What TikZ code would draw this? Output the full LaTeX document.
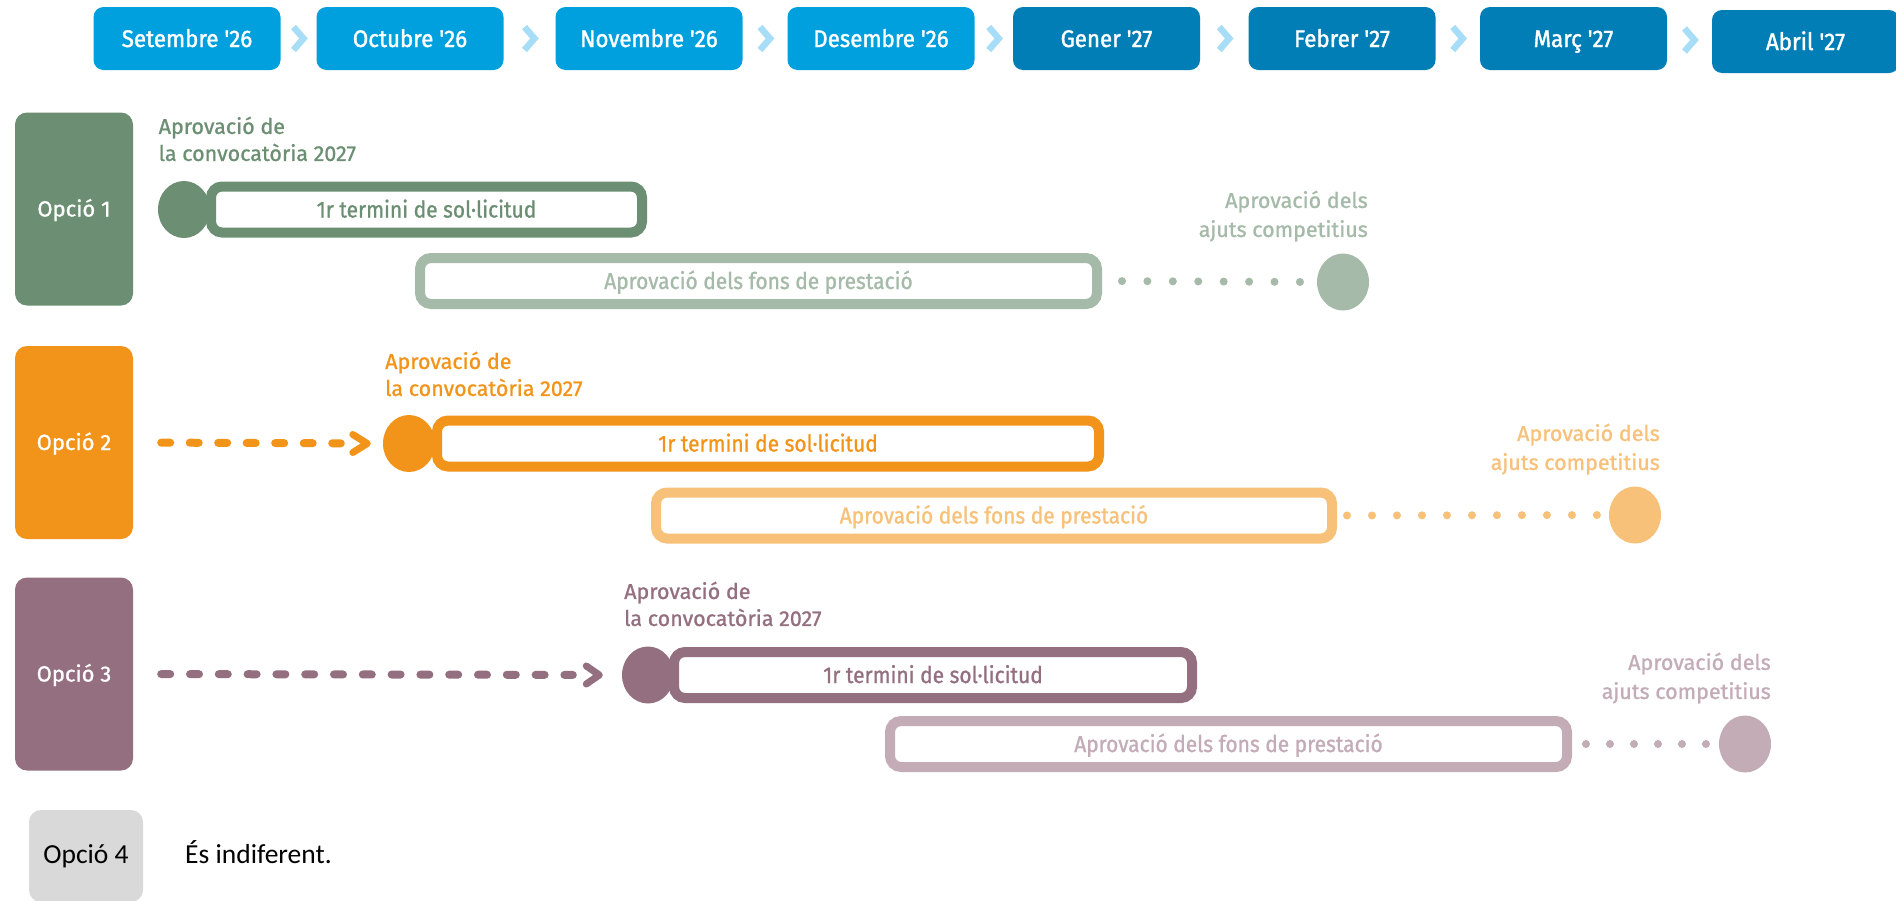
\documentclass[tikz,border=0pt]{standalone}
\usepackage{fontspec}
\usetikzlibrary{shapes.geometric,arrows.meta}
\newfontfamily\firaM[FakeStretch=0.93,FakeBold=1.5]{Fira Sans}
\newfontfamily\firaC[FakeStretch=0.91,FakeBold=1]{Fira Sans}
\newfontfamily\fira[FakeBold=1]{Fira Sans}
\newfontfamily\carl{Carlito}
\definecolor{greenD}{RGB}{108,143,115}
\definecolor{greenL}{RGB}{165,186,168}
\definecolor{orangeD}{RGB}{243,148,26}
\definecolor{orangeL}{RGB}{248,193,121}
\definecolor{mauveD}{RGB}{148,111,127}
\definecolor{mauveL}{RGB}{196,172,183}
\definecolor{blueL}{RGB}{0,160,223}
\definecolor{blueD}{RGB}{0,126,181}
\definecolor{chevC}{RGB}{168,221,247}
\definecolor{grayB}{RGB}{217,217,217}
\tikzset{
  month/.style={fill=#1, rounded corners=10pt, minimum width=187pt, minimum height=63pt, inner sep=0pt, text=white, font=\firaM\fontsize{24}{28}\selectfont, text height=17pt, text depth=0pt},
  chev/.style={draw=chevC, line width=6.5pt, line join=miter},
  optbox/.style={fill=#1, rounded corners=12pt, minimum width=118pt, minimum height=193pt, inner sep=0pt, text=white, font=\fira\fontsize{22}{26}\selectfont, text height=15pt, text depth=0pt},
  startdot/.style={ellipse, fill=#1, minimum width=52pt, minimum height=57pt, inner sep=0pt},
  bar/.style={draw=#1, fill=white, line width=10pt, rounded corners=11pt, minimum height=46pt, inner sep=0pt, text=#1, font=\firaC\fontsize{23}{27}\selectfont, text height=16pt, text depth=0pt},
  lab/.style={text=#1, inner sep=0pt, font=\fira\fontsize{21.5}{27}\selectfont},
  rlab/.style={text=#1, inner sep=0pt, align=right, anchor=north east, font=\fira\fontsize{21.5}{29}\selectfont},
  dotline/.style={draw=#1, line width=8pt, line cap=round},
  dashl/.style={draw=#1, line width=8pt, line cap=round},
  arrchev/.style={draw=#1, line width=7pt, line cap=round, line join=round},
}
\begin{document}
\begin{tikzpicture}[x=1pt,y=-1pt]
\useasboundingbox (0,0) rectangle (1896,900);
\fill[white] (0,0) rectangle (1896,900);

% months
\node[month=blueL] (m1) at (187,38.5) {Setembre '26};
\node[month=blueL] (m2) at (410,38.5) {Octubre '26};
\node[month=blueL] (m3) at (649,38.5) {Novembre '26};
\node[month=blueL] (m4) at (881,38.5) {Desembre '26};
\node[month=blueD] (m5) at (1106.5,38.5) {Gener '27};
\node[month=blueD] (m6) at (1342,38.5) {Febrer '27};
\node[month=blueD] (m7) at (1573.5,38.5) {Març '27};
\node[month=blueD] (m8) at (1805.5,41.5) {Abril '27};
\foreach \a/\b in {m1/m2,m2/m3,m3/m4,m4/m5,m5/m6,m6/m7,m7/m8}{
  \path (\a.east) -- (\b.west) coordinate[pos=0.5] (c\a);
  \draw[chev] ([xshift=-5pt,yshift=11.5pt]c\a) -- ([xshift=5pt]c\a) -- ([xshift=-5pt,yshift=-11.5pt]c\a);
}

% option boxes
\node[optbox=greenD] (o1) at (74,209) {Opció 1};
\node[optbox=orangeD] (o2) at (74,442.5) {Opció 2};
\node[optbox=mauveD] (o3) at (74,674) {Opció 3};

% row 1
\node[lab=greenD, align=left, anchor=north west] (l1) at (158.5,116.5) {Aprovació de\\la convocatòria 2027};
\node[startdot=greenD] (s1) at (184,209.5) {};
\node[bar=greenD, minimum width=431pt] (b1) at (426.5,209.5) {1r termini de sol·licitud};
\node[bar=greenL, minimum width=677pt] (f1) at (758.5,281) {Aprovació dels fons de prestació};
\node[startdot=greenL] (e1) at (1343,282) {};
\node[rlab=greenL] (r1) at (1368,190.5) {Aprovació dels\\ajuts competitius};
\draw[dotline=greenL, dash pattern=on 0pt off 25.42pt, shorten <=20pt, shorten >=16pt] (f1.east) -- (e1.west);

% row 2
\node[lab=orangeD, align=left, anchor=north west] (l2) at (385,351.5) {Aprovació de\\la convocatòria 2027};
\node[startdot=orangeD] (s2) at (409,443.5) {};
\node[bar=orangeD, minimum width=662pt] (b2) at (768,443.5) {1r termini de sol·licitud};
\node[bar=orangeL, minimum width=676pt] (f2) at (994,515.5) {Aprovació dels fons de prestació};
\node[startdot=orangeL] (e2) at (1635,515) {};
\node[rlab=orangeL] (r2) at (1660,423.5) {Aprovació dels\\ajuts competitius};
\draw[dotline=orangeL, dash pattern=on 0pt off 24.99pt, shorten <=10pt, shorten >=11pt] (f2.east) -- (e2.west);
\draw[dashl=orangeD, dash pattern=on 9pt off 19.5pt, shorten <=28pt, shorten >=42pt] (o2.east) -- (s2.west);
\draw[arrchev=orangeD] ([xshift=-30pt,yshift=9pt]s2.west) -- ([xshift=-15.5pt]s2.west) -- ([xshift=-30pt,yshift=-9pt]s2.west);

% row 3
\node[lab=mauveD, align=left, anchor=north west] (l3) at (624,581.5) {Aprovació de\\la convocatòria 2027};
\node[startdot=mauveD] (s3) at (648,675) {};
\node[bar=mauveD, minimum width=518pt] (b3) at (933,675) {1r termini de sol·licitud};
\node[bar=mauveL, minimum width=677pt] (f3) at (1228.5,744) {Aprovació dels fons de prestació};
\node[startdot=mauveL] (e3) at (1745,744) {};
\node[rlab=mauveL] (r3) at (1771,652.5) {Aprovació dels\\ajuts competitius};
\draw[dotline=mauveL, dash pattern=on 0pt off 23.99pt, shorten <=14pt, shorten >=12pt] (f3.east) -- (e3.west);
\draw[dashl=mauveD, dash pattern=on 9pt off 19.8pt, shorten <=28pt, shorten >=49pt] (o3.east) -- (s3.west);
\draw[arrchev=mauveD] ([xshift=-35.5pt,yshift=9pt]s3.west) -- ([xshift=-22.5pt]s3.west) -- ([xshift=-35.5pt,yshift=-9pt]s3.west);

% option 4
\node[fill=grayB, rounded corners=12pt, minimum width=114pt, minimum height=92pt, inner sep=0pt, font=\carl\fontsize{27.5}{33}\selectfont, text=black] (o4) at (86,856) {Opció 4};
\node[anchor=base west, inner sep=0pt, font=\carl\fontsize{27.5}{33}\selectfont, text=black] (t4) at (185,863.5) {És indiferent.};
\end{tikzpicture}
\end{document}
